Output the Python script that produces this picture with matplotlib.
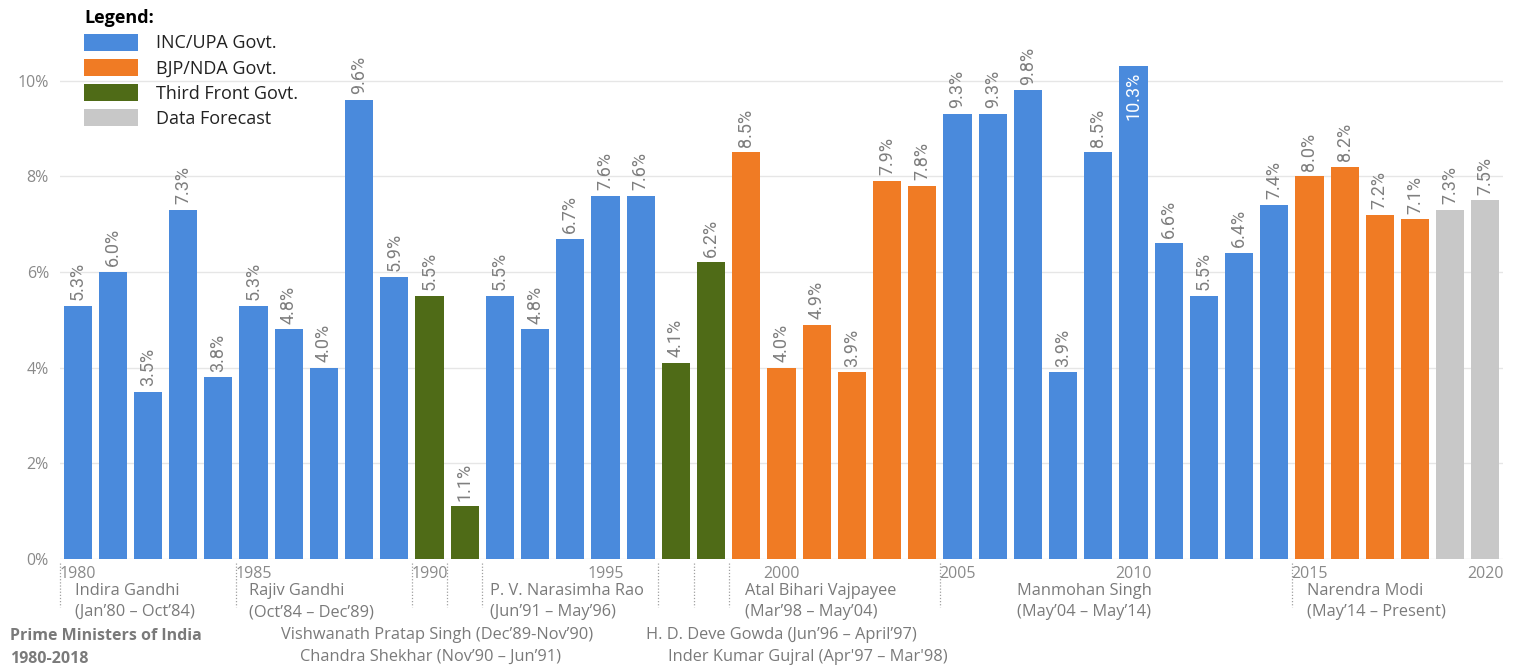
import matplotlib
matplotlib.use("Agg")
import matplotlib.pyplot as plt
from matplotlib.patches import Patch

plt.rcParams['font.family'] = ['Open Sans', 'DejaVu Sans']

years = list(range(1980, 2021))
growth = [5.3, 6.0, 3.5, 7.3, 3.8, 5.3, 4.8, 4.0, 9.6, 5.9,
          5.5, 1.1, 5.5, 4.8, 6.7, 7.6, 7.6, 4.1, 6.2, 8.5,
          4.0, 4.9, 3.9, 7.9, 7.8, 9.3, 9.3, 9.8, 3.9, 8.5,
          10.3, 6.6, 5.5, 6.4, 7.4, 8.0, 8.2, 7.2, 7.1, 7.3, 7.5]
govt = (['INC'] * 10 + ['TF'] * 2 + ['INC'] * 5 + ['TF'] * 2 + ['BJP'] * 6
        + ['INC'] * 10 + ['BJP'] * 4 + ['FC'] * 2)
govt_names = {'INC': 'INC/UPA Govt.', 'BJP': 'BJP/NDA Govt.',
              'TF': 'Third Front Govt.', 'FC': 'Data Forecast'}
govt_colors = {'INC': '#4A8ADC', 'BJP': '#F07B24', 'TF': '#4F6B17', 'FC': '#C8C8C8'}
tick_years = [1980, 1985, 1990, 1995, 2000, 2005, 2010, 2015, 2020]
yticks = [0, 2, 4, 6, 8, 10]
separators = [1979.5, 1984.5, 1989.5, 1990.5, 1991.5, 1996.5, 1997.5, 1998.5, 2004.5, 2014.5]
pm_upper = [(1979.93, 'Indira Gandhi\n(Jan\u201980 \u2013 Oct\u201984)'),
            (1984.87, 'Rajiv Gandhi\n(Oct\u201984 \u2013 Dec\u201989)'),
            (1991.72, 'P. V. Narasimha Rao\n(Jun\u201991 \u2013 May\u201996)'),
            (1998.96, 'Atal Bihari Vajpayee\n(Mar\u201998 \u2013 May\u201904)'),
            (2006.69, 'Manmohan Singh\n(May\u201904 \u2013 May\u201914)'),
            (2014.93, 'Narendra Modi\n(May\u201914 \u2013 Present)')]
pm_lower = [(1985.78, 0, 'Vishwanath Pratap Singh (Dec\u201989-Nov\u201990)'),
            (1986.32, 1, 'Chandra Shekhar (Nov\u201990 \u2013 Jun\u201991)'),
            (1996.15, 0, 'H. D. Deve Gowda (Jun\u201996 \u2013 April\u201997)'),
            (1996.77, 1, "Inder Kumar Gujral (Apr'97 \u2013 Mar'98)")]

W, H = 1515, 665
fig = plt.figure(figsize=(W / 100, H / 100), dpi=100)
ax = fig.add_axes([60 / W, 1 - 559 / H, (1503 - 60) / W, (559 - 9) / H])

colors = [govt_colors[g] for g in govt]
ax.bar(years, growth, width=0.8, color=colors, zorder=2)
ax.set_xlim(1979.5, 2020.5)
ax.set_ylim(0, 11.5)

ax.set_yticks(yticks)
ax.set_yticklabels([f'{v}%' for v in yticks], color='#8a8a8a', fontsize=11.5)
ax.set_xticks(tick_years)
ax.set_xticklabels([str(y) for y in tick_years], color='#8a8a8a', fontsize=11.5)
ax.tick_params(axis='both', length=0)
ax.tick_params(axis='x', pad=5)
ax.tick_params(axis='y', pad=8)
ax.grid(axis='y', color='#e6e6e6', linewidth=1, zorder=0)
for s in ax.spines.values():
    s.set_visible(False)

lbl_font = dict(family=['Roboto', 'DejaVu Sans'], fontsize=13, rotation=90)
for x, v in zip(years, growth):
    if v >= 10:
        ax.text(x, v - 0.12, f'{v:.1f}%', ha='center', va='top', color='white', **lbl_font)
    else:
        ax.text(x, v + 0.12, f'{v:.1f}%', ha='center', va='bottom', color='#7f7f7f', **lbl_font)

trans = ax.get_xaxis_transform()
for sx in separators:
    ax.plot([sx, sx], [-0.008, -0.088], transform=trans, color='#a0a0a0',
            linestyle=(0, (1, 1.5)), linewidth=0.9, clip_on=False)

for x, txt in pm_upper:
    ax.text(x, -0.043, txt, transform=trans, ha='left', va='top',
            color='#7a7a7a', fontsize=11.8, linespacing=1.45)

for x, row, txt in pm_lower:
    ax.text(x, -0.124 - row * 0.04, txt, transform=trans, ha='left', va='top',
            color='#7a7a7a', fontsize=11.8)

fig.text(10 / W, 1 - 628 / H, 'Prime Ministers of India\n1980-2018', ha='left', va='top',
         color='#7a7a7a', fontsize=11.5, fontweight='bold', linespacing=1.6)

handles = [Patch(facecolor=govt_colors[k], label=govt_names[k]) for k in ['INC', 'BJP', 'TF', 'FC']]
leg = fig.legend(handles=handles, loc='upper left', bbox_to_anchor=(77 / W, 1 - 2 / H),
                 frameon=False, fontsize=13, title='Legend:', title_fontproperties={'weight': 'bold', 'size': 13},
                 handlelength=3.0, handleheight=1.1, handletextpad=0.95, labelspacing=0.35,
                 alignment='left', borderaxespad=0)
for t in leg.get_texts():
    t.set_color('#222222')

fig.savefig('out.png', dpi=100, facecolor='white')
